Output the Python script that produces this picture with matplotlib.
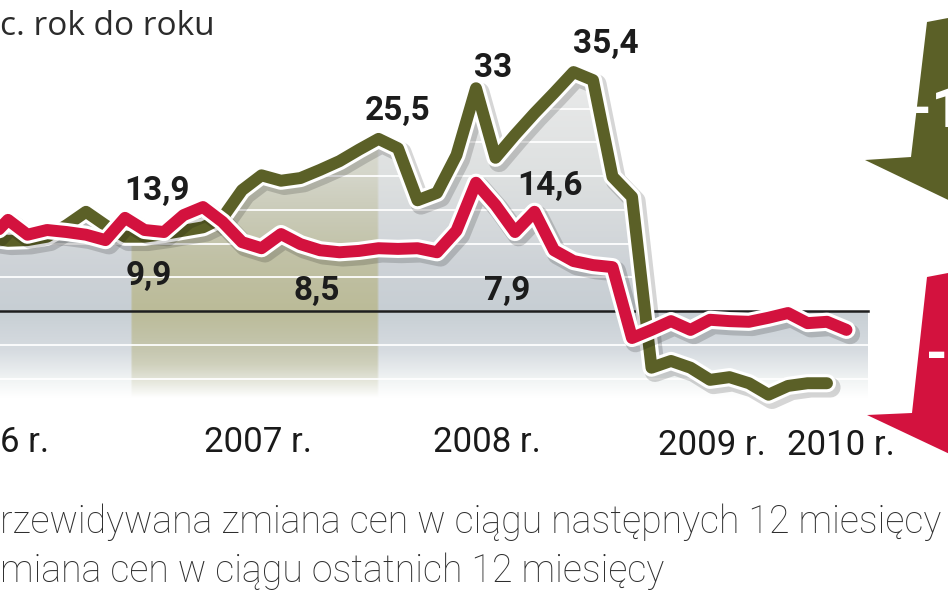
import numpy as np
import matplotlib

matplotlib.use("Agg")
import matplotlib.pyplot as plt  # noqa: E402
import matplotlib.patheffects as pe  # noqa: E402
from matplotlib.patches import Polygon  # noqa: E402

# monthly readings, month 0 = first vertex inside the crop (mid 2006)
expected_change = [10.8, 10.4, 10.5, 11.0, 12.7, 14.7, 12.7, 11.0, 11.0, 11.4,
                   11.9, 12.4, 13.8, 17.9, 20.1, 19.3, 19.7, 20.9, 22.2, 23.9,
                   25.5, 24.1, 16.4, 17.5, 23.1, 33.0, 22.7, 26.1, 29.3, 32.3,
                   35.4, 34.2, 19.9, 16.9, -8.4, -7.4, -8.4, -10.2, -9.8, -10.7,
                   -12.4, -11.1, -10.7, -10.7]
past_change = [10.5, 13.5, 11.3, 12.0, 11.7, 11.3, 10.5, 13.8, 12.0, 11.7,
               14.2, 15.4, 13.2, 10.2, 9.3, 11.4, 9.9, 9.0, 8.7, 8.9,
               9.3, 9.2, 9.3, 8.7, 11.9, 19.0, 15.7, 11.7, 14.7, 9.0,
               7.4, 6.8, 6.5, -4.0, -2.8, -1.5, -2.8, -1.3, -1.5, -1.6,
               -1.0, -0.3, -1.8, -1.6, -2.8]
year_labels = ["6 r.", "2007 r.", "2008 r.", "2009 r.", "2010 r."]
value_labels = ["13,9", "9,9", "25,5", "8,5", "33", "35,4", "14,6", "7,9"]
unit_label = "c. rok do roku"
legend_lines = ["rzewidywana zmiana cen w ciągu następnych 12 miesięcy",
                "miana cen w ciągu ostatnich 12 miesięcy"]
arrow_labels = ["-1", "-"]

OLIVE = "#5b6027"
RED = "#d3123e"
W, H = 948, 593
SANS = ["Roboto", "DejaVu Sans"]

# reference pixel grid: month i sits at x = 8 + 19.5 i, value 0 at y = 311, 6.75 px per point
X0, DX, Y0, DY = 8.0, 19.5, 311.0, 6.75


def to_data(px, py):
    return (px - X0) / DX, (Y0 - py) / DY


def fig_xy(px, py):
    return px / W, 1 - py / H


fig = plt.figure(figsize=(W / 100, H / 100), dpi=100)
ax = fig.add_axes([0, 0, 1, 1])
x_left, y_top = to_data(0, 0)
x_right, y_bottom = to_data(W, H)
ax.set_xlim(x_left, x_right)
ax.set_ylim(y_bottom, y_top)
ax.axis("off")

m_exp = np.arange(len(expected_change)) - 1
m_past = np.arange(len(past_change)) - 1
x_end = to_data(868, 0)[0]

# shaded panel under the upper envelope of both series
xf = np.linspace(-1, x_end, 1500)
env = np.maximum.reduce([
    np.interp(xf, m_exp, expected_change, right=-99),
    np.interp(xf, m_past, past_change, right=-99),
    np.zeros_like(xf),
])
bottom = -14
panel = Polygon(np.column_stack([np.r_[xf, x_end, -1], np.r_[env, bottom, bottom]]),
                closed=True, facecolor="none", edgecolor="none")
ax.add_patch(panel)

ys = np.linspace(40, bottom, 300)
gray_stops_v = [40, 20, 5, 0, -6, -10.5, -13, -14]
gray_stops_c = np.array([[0.93, 0.93, 0.93], [0.87, 0.88, 0.88], [0.80, 0.82, 0.84],
                         [0.78, 0.81, 0.83], [0.84, 0.86, 0.88], [0.95, 0.96, 0.96],
                         [1, 1, 1], [1, 1, 1]])
col = np.stack([np.interp(ys, gray_stops_v[::-1], gray_stops_c[::-1, k]) for k in range(3)], axis=1)
xs = np.linspace(-1, x_end, 400)
img = np.repeat(col[:, None, :], len(xs), axis=1)
band_lo, band_hi = to_data(131, 0)[0], to_data(378, 0)[0]
in_band = (xs >= band_lo) & (xs <= band_hi)
khaki = np.array([0.72, 0.71, 0.52])
band_w = np.interp(ys, [-13, -8, 0, 8, 20, 40], [0, 0.45, 0.75, 0.6, 0.25, 0.1])
img[:, in_band, :] = (img[:, in_band, :] * (1 - band_w[:, None, None])
                      + khaki * band_w[:, None, None])
im = ax.imshow(img, extent=[-1, x_end, bottom, 40], aspect="auto",
               interpolation="bilinear", zorder=1)
im.set_clip_path(panel)

for lvl in [-10, -5, 5, 10, 15, 20, 25, 30]:
    gl = ax.axhline(lvl, color="white", lw=1.4, alpha=0.9, zorder=2)
    gl.set_clip_path(panel)
ax.plot([x_left, x_end], [0, 0], color="#1e1e1e", lw=1.8, zorder=3)

lw = 8.6
for m, vals, color, z in [(m_exp, expected_change, OLIVE, 5), (m_past, past_change, RED, 6)]:
    ax.plot(m, vals, color=color, lw=lw, solid_capstyle="round", solid_joinstyle="round",
            zorder=z, path_effects=[
                pe.SimpleLineShadow(offset=(2.5, -3), shadow_color="black", alpha=0.16,
                                    linewidth=lw + 6),
                pe.Stroke(linewidth=lw + 4.5, foreground="white"),
                pe.Normal(),
            ])

# value call-outs (centre x, baseline y in reference pixels)
label_spots = [(157, 200), (149, 285), (398, 120), (317, 300),
               (493, 77), (606, 53), (550, 195), (507, 300)]
for txt, (px, py) in zip(value_labels, label_spots):
    ax.text(*to_data(px, py), txt, ha="center", va="baseline", fontsize=24,
            fontweight="bold", family=SANS, color="#1c1c1c", zorder=8)

year_spots = [(0, 452), (258, 452), (487, 452), (712, 455), (841, 455)]
for i, (txt, (px, py)) in enumerate(zip(year_labels, year_spots)):
    ax.text(*to_data(px, py), txt, ha="left" if i == 0 else "center", va="baseline",
            fontsize=25, family=SANS, color="#1a1a1a")

fig.text(*fig_xy(0, 35), unit_label, ha="left", va="baseline", fontsize=24,
         family=["Open Sans", "DejaVu Sans"], color="#2b2b2b")
for line, base in zip(legend_lines, [533, 582]):
    fig.text(*fig_xy(0, base), line, ha="left", va="baseline", fontsize=27,
             fontweight="light", family=SANS, color="#2e2e2e")

# block arrows on the right edge
olive_arrow = [(927, 22), (990, 10), (990, 220), (865, 160), (911, 157)]
red_arrow = [(927, 277), (990, 265), (990, 473), (867, 415), (912, 413)]
for pts, color in [(olive_arrow, OLIVE), (red_arrow, RED)]:
    fig.patches.append(Polygon([fig_xy(*p) for p in pts], closed=True, facecolor=color,
                               edgecolor="none", transform=fig.transFigure, zorder=9))
fig.text(*fig_xy(910, 127), arrow_labels[0], ha="left", va="baseline", fontsize=40,
         fontweight="bold", family=SANS, color="white", zorder=10)
fig.text(*fig_xy(926, 372), arrow_labels[1], ha="left", va="baseline", fontsize=40,
         fontweight="bold", family=SANS, color="white", zorder=10)

fig.savefig("out.png", dpi=100)
plt.close(fig)
